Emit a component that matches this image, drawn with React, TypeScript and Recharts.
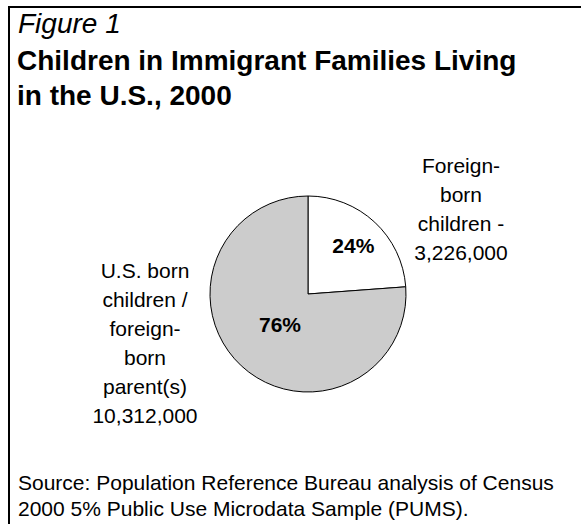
import React from "react";
import { PieChart, Pie, Cell } from "recharts";

const categories = [
  "Foreign-born children",
  "U.S. born children / foreign-born parent(s)",
];
const childCounts = [3226000, 10312000];
const sliceColors = ["#ffffff", "#cccccc"];
const rightLabelLines = ["Foreign-", "born", "children -", "3,226,000"];
const leftLabelLines = ["U.S. born", "children /", "foreign-", "born", "parent(s)", "10,312,000"];
const titleLines = ["Children in Immigrant Families Living", "in the U.S., 2000"];
const sourceLines = [
  "Source: Population Reference Bureau analysis of Census",
  "2000 5% Public Use Microdata Sample (PUMS).",
];

const data = categories.map((name, i) => ({ name, value: childCounts[i] }));

const FONT = "'Liberation Sans', Arial, Helvetica, sans-serif";
const labelRadiusFactor = [0.68, 0.42];

const RADIAN = Math.PI / 180;
const renderPct = (props: any) => {
  const { cx, cy, midAngle, outerRadius, percent, index } = props;
  const r = outerRadius * labelRadiusFactor[index];
  const x = cx + r * Math.cos(-midAngle * RADIAN);
  const y = cy + r * Math.sin(-midAngle * RADIAN);
  return (
    <text
      x={x}
      y={y}
      textAnchor="middle"
      dominantBaseline="central"
      fontFamily={FONT}
      fontWeight="bold"
      fontSize={21}
      fill="#000"
    >
      {Math.round(percent * 100)}%
    </text>
  );
};

export default function App() {
  return (
    <div
      style={{
        position: "absolute",
        left: 0,
        top: 0,
        width: 581,
        height: 524,
        background: "#fff",
        overflow: "hidden",
        fontFamily: FONT,
        color: "#000",
      }}
    >
      <div
        style={{
          position: "absolute",
          left: 8,
          top: 6,
          width: 600,
          height: 600,
          borderTop: "2px solid #000",
          borderLeft: "2px solid #000",
        }}
      />
      <div style={{ position: "absolute", left: 0, top: 0 }}>
        <PieChart width={581} height={524} margin={{ top: 0, right: 0, bottom: 0, left: 0 }}>
          <Pie
            data={data}
            dataKey="value"
            nameKey="name"
            cx={308}
            cy={294}
            outerRadius={98}
            startAngle={90}
            endAngle={-270}
            stroke="#000"
            strokeWidth={1}
            label={renderPct}
            labelLine={false}
            isAnimationActive={false}
          >
            {data.map((d, i) => (
              <Cell key={d.name} fill={sliceColors[i]} />
            ))}
          </Pie>
        </PieChart>
      </div>
      <div
        style={{
          position: "absolute",
          left: 18,
          top: 8,
          fontSize: 28,
          lineHeight: "32px",
          fontStyle: "italic",
          whiteSpace: "nowrap",
        }}
      >
        Figure 1
      </div>
      <div
        style={{
          position: "absolute",
          left: 17,
          top: 43,
          fontSize: 28,
          lineHeight: "35px",
          fontWeight: "bold",
          whiteSpace: "nowrap",
        }}
      >
        {titleLines.map((t) => (
          <div key={t}>{t}</div>
        ))}
      </div>
      <div
        style={{
          position: "absolute",
          left: 361,
          width: 200,
          top: 151,
          fontSize: 21,
          lineHeight: "29px",
          textAlign: "center",
          whiteSpace: "nowrap",
        }}
      >
        {rightLabelLines.map((t) => (
          <div key={t}>{t}</div>
        ))}
      </div>
      <div
        style={{
          position: "absolute",
          left: 45,
          width: 200,
          top: 256,
          fontSize: 21,
          lineHeight: "29px",
          textAlign: "center",
          whiteSpace: "nowrap",
        }}
      >
        {leftLabelLines.map((t) => (
          <div key={t}>{t}</div>
        ))}
      </div>
      <div
        style={{
          position: "absolute",
          left: 18,
          top: 470,
          fontSize: 21,
          lineHeight: "26px",
          whiteSpace: "nowrap",
        }}
      >
        {sourceLines.map((t) => (
          <div key={t}>{t}</div>
        ))}
      </div>
    </div>
  );
}
